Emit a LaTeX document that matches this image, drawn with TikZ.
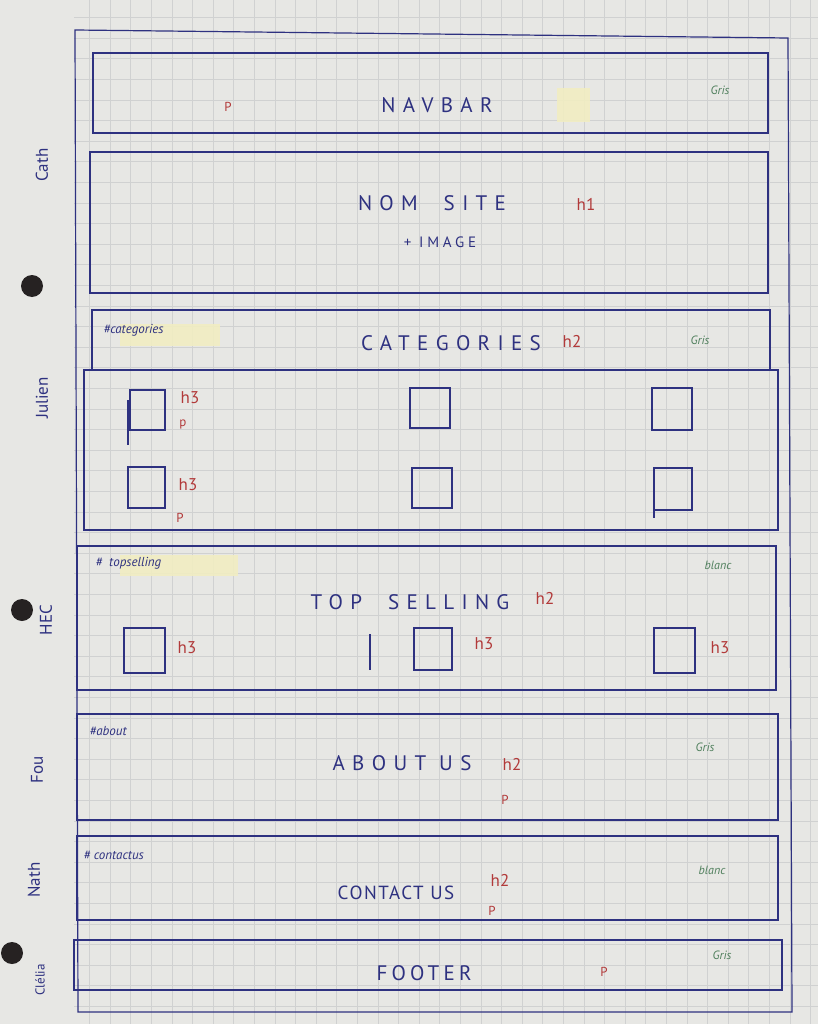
\documentclass[tikz,border=0pt]{standalone}
\usepackage{fontspec}
\setmainfont{PT Sans}
\definecolor{paperc}{HTML}{E7E7E4}
\definecolor{gridc}{HTML}{D0D1D1}
\definecolor{inkc}{HTML}{2E3180}
\definecolor{redc}{HTML}{B23A3A}
\definecolor{greenc}{HTML}{4F7F5C}
\definecolor{tapec}{HTML}{F1EDC2}
\definecolor{holec}{HTML}{262222}
\begin{document}
\begin{tikzpicture}[x=1pt,y=-1pt,
  frame/.style={draw=inkc, line width=1.2pt},
  box/.style={draw=inkc, line width=1.3pt},
  title/.style={text=inkc, font=\fontsize{21}{23}\selectfont\addfontfeature{LetterSpace=35}},
  title narrow/.style={text=inkc, font=\fontsize{19}{21}\selectfont\addfontfeature{LetterSpace=8}},
  small/.style={text=inkc, font=\fontsize{15}{17}\selectfont\addfontfeature{LetterSpace=25}},
  tagr/.style={text=redc, font=\fontsize{17}{19}\selectfont},
  tagp/.style={text=redc, font=\fontsize{13}{15}\selectfont},
  shadec/.style={text=greenc, font=\itshape\fontsize{12}{14}\selectfont},
  hashtag/.style={text=inkc, font=\itshape\fontsize{13}{15}\selectfont, anchor=west},
  author/.style={text=inkc, rotate=90, font=\fontsize{17}{19}\selectfont},
  tape/.style={fill=tapec, fill opacity=0.9, draw=none},
  sq/.style={draw=inkc, line width=1.2pt}
]
% paper
\fill[paperc] (0,0) rectangle (818,1024);
\useasboundingbox (0,0) rectangle (818,1024);
% squared grid
\foreach \i in {-1,...,34} \draw[gridc, line width=0.5pt] ({110+20.6*\i},0) -- ({110+20.6*\i},1024);
\foreach \j in {-16,...,32} \draw[gridc, line width=0.5pt] (74,{347+20.6*\j}) -- (818,{347+20.6*\j});
% punch holes
\fill[holec] (32,286) circle (11);
\fill[holec] (22,610) circle (11);
\fill[holec] (12,953) circle (11);

% page frame
\draw[frame] (75,30) -- (788,38) -- (792,1012) -- (78,1012) -- cycle;

% navbar
\draw[box] (93,53) rectangle (768,133);
\fill[tape] (557,88) rectangle (590,122);
\node[title] (navbar) at (437,105) {NAVBAR};
\node[tagp] (navp) at (228,107) {P};
\node[shadec] (navgris) at (720,90) {Gris};

% site name + image
\draw[box] (90,152) rectangle (768,293);
\node[title] (site) at (432,203) {NOM\ \ SITE};
\node[tagr] (siteh) at (586,204) {h1};
\node[small] (img) at (440,242) {+ IMAGE};

% categories
\draw[box] (92,310) rectangle (770,370);
\draw[box] (84,370) rectangle (778,530);
\fill[tape] (120,324) rectangle (220,346);
\node[hashtag] (hcat) at (100,330) {\#categories};
\node[title] (cat) at (451,343) {CATEGORIES};
\node[tagr] (cath) at (572,341) {h2};
\node[shadec] (catgris) at (700,340) {Gris};
\draw[sq] (130,390) rectangle (165,430);
\draw[sq] (128,400) -- (128,445);
\node[tagr] (c1h) at (190,398) {h3};
\node[tagp] (c1p) at (183,424) {p};
\draw[sq] (410,388) rectangle (450,428);
\draw[sq] (652,388) rectangle (692,430);
\draw[sq] (128,467) rectangle (165,508);
\node[tagr] (c2h) at (188,485) {h3};
\node[tagp] (c2p) at (180,518) {P};
\draw[sq] (412,468) rectangle (452,508);
\draw[sq] (654,468) rectangle (692,510);
\draw[sq] (654,500) -- (654,518);

% top selling
\draw[box] (77,546) rectangle (776,690);
\fill[tape] (120,555) rectangle (238,576);
\node[hashtag] (hts) at (92,563) {\#\ \ topselling};
\node[title] (ts) at (410,602) {TOP\ \ SELLING};
\node[tagr] (tsh) at (545,598) {h2};
\node[shadec] (tsblanc) at (718,565) {blanc};
\draw[sq] (124,628) rectangle (165,673);
\node[tagr] (t1h) at (187,648) {h3};
\draw[sq] (370,634) -- (370,670);
\draw[sq] (414,628) rectangle (452,670);
\node[tagr] (t2h) at (484,644) {h3};
\draw[sq] (654,628) rectangle (695,673);
\node[tagr] (t3h) at (720,648) {h3};

% about
\draw[box] (77,714) rectangle (778,820);
\node[hashtag] (hab) at (86,731) {\#about};
\node[title] (ab) at (402,763) {ABOUT\ US};
\node[tagr] (abh) at (512,764) {h2};
\node[tagp] (abp) at (505,800) {P};
\node[shadec] (abgris) at (705,747) {Gris};

% contact
\draw[box] (77,836) rectangle (778,920);
\node[hashtag] (hct) at (80,855) {\#\ contactus};
\node[title narrow] (ct) at (396,893) {CONTACT\ US};
\node[tagr] (cth) at (500,880) {h2};
\node[tagp] (ctp) at (492,911) {P};
\node[shadec] (ctblanc) at (712,870) {blanc};

% footer
\draw[box] (74,940) rectangle (782,990);
\node[title, font=\fontsize{21}{23}\selectfont\addfontfeature{LetterSpace=20}] (ft) at (424,973) {FOOTER};
\node[tagp] (ftp) at (604,972) {P};
\node[shadec] (ftgris) at (722,955) {Gris};

% names in the margin
\node[author] (n1) at (42,165) {Cath};
\node[author] (n2) at (42,398) {Julien};
\node[author] (n3) at (46,620) {HEC};
\node[author] (n4) at (37,770) {Fou};
\node[author] (n5) at (34,880) {Nath};
\node[author, font=\fontsize{13}{15}\selectfont] (n6) at (40,980) {Clélia};
\end{tikzpicture}
\end{document}
